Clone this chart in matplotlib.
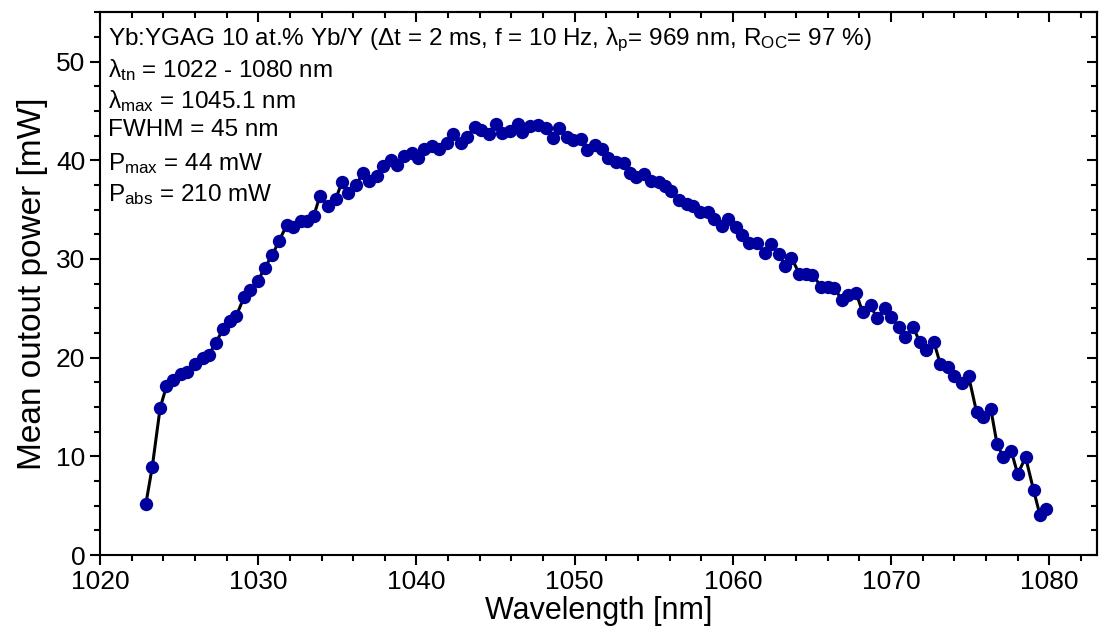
import matplotlib
matplotlib.use("Agg")
import matplotlib.pyplot as plt
from matplotlib.ticker import MultipleLocator

plt.rcParams['font.family'] = ['Liberation Sans', 'DejaVu Sans']
plt.rcParams['mathtext.fontset'] = 'custom'
plt.rcParams['mathtext.rm'] = 'Liberation Sans'
plt.rcParams['mathtext.it'] = 'Liberation Sans:italic'
plt.rcParams['mathtext.default'] = 'regular'

# wavelength [nm]
wavelength = [
    1022.9, 1023.3, 1023.8, 1024.2, 1024.6, 1025.1, 1025.5, 1026.0, 1026.5, 1026.9,
    1027.3, 1027.8, 1028.2, 1028.6, 1029.1, 1029.5, 1030.0, 1030.4, 1030.9, 1031.3,
    1031.8, 1032.2, 1032.7, 1033.1, 1033.5, 1033.9, 1034.4, 1034.9, 1035.3, 1035.7,
    1036.2, 1036.6, 1037.0, 1037.5, 1037.9, 1038.4, 1038.8, 1039.2, 1039.7, 1040.1,
    1040.5, 1041.0, 1041.4, 1041.9, 1042.3, 1042.8, 1043.2, 1043.7, 1044.1, 1044.6,
    1045.0, 1045.4, 1045.9, 1046.4, 1046.7, 1047.2, 1047.7, 1048.2, 1048.6, 1049.0,
    1049.5, 1049.9, 1050.4, 1050.8, 1051.3, 1051.7, 1052.1, 1052.6, 1053.1, 1053.5,
    1053.9, 1054.4, 1054.8, 1055.3, 1055.7, 1056.1, 1056.6, 1057.1, 1057.5, 1057.9,
    1058.4, 1058.8, 1059.3, 1059.7, 1060.2, 1060.6, 1061.0, 1061.5, 1062.0, 1062.4,
    1062.9, 1063.3, 1063.7, 1064.2, 1064.6, 1065.0, 1065.6, 1066.0, 1066.4, 1066.9,
    1067.3, 1067.8, 1068.2, 1068.7, 1069.1, 1069.6, 1070.0, 1070.5, 1070.9, 1071.4,
    1071.8, 1072.2, 1072.7, 1073.1, 1073.6, 1074.0, 1074.5, 1074.9, 1075.4, 1075.8,
    1076.3, 1076.7, 1077.1, 1077.6, 1078.0, 1078.5, 1079.0, 1079.4, 1079.8,
]
# mean output power [mW]
power = [
    5.2, 8.9, 14.9, 17.1, 17.7, 18.3, 18.5, 19.4, 20.0, 20.3,
    21.5, 22.9, 23.7, 24.2, 26.1, 26.9, 27.8, 29.1, 30.4, 31.8,
    33.4, 33.2, 33.8, 33.8, 34.3, 36.4, 35.4, 36.1, 37.8, 36.7,
    37.5, 38.7, 37.9, 38.4, 39.4, 40.0, 39.5, 40.4, 40.7, 40.2,
    41.1, 41.4, 41.1, 41.7, 42.7, 41.7, 42.4, 43.4, 43.1, 42.7,
    43.7, 42.8, 43.0, 43.7, 42.9, 43.5, 43.6, 43.3, 42.3, 43.3,
    42.4, 42.1, 42.2, 41.0, 41.5, 41.1, 40.2, 39.8, 39.7, 38.7,
    38.3, 38.6, 37.9, 37.8, 37.4, 36.9, 36.0, 35.6, 35.4, 34.8,
    34.8, 34.0, 33.3, 34.0, 33.2, 32.4, 31.6, 31.6, 30.6, 31.5,
    30.5, 29.3, 30.1, 28.5, 28.5, 28.4, 27.2, 27.2, 27.1, 25.8,
    26.3, 26.5, 24.6, 25.3, 24.0, 25.0, 24.1, 23.1, 22.1, 23.1,
    21.6, 20.8, 21.6, 19.4, 19.0, 18.1, 17.4, 18.1, 14.5, 14.0,
    14.8, 11.2, 9.9, 10.5, 8.2, 9.9, 6.6, 4.1, 4.7,
]

info_lines = [
    r'Yb:YGAG 10 at.% Yb/Y ($\Delta$t = 2 ms, f = 10 Hz, $\lambda_{p}$= 969 nm, R$_{OC}$= 97 %)',
    r'$\lambda_{tn}$ = 1022 - 1080 nm',
    r'$\lambda_{max}$ = 1045.1 nm',
    'FWHM = 45 nm',
    r'P$_{max}$ = 44 mW',
    r'P$_{abs}$ = 210 mW',
]

fig = plt.figure(figsize=(10.99, 6.42), dpi=100)
ax = fig.add_axes([0.091, 0.1355, 0.907, 0.8455])

ax.plot(wavelength, power, color='black', lw=2.2, zorder=1)
ax.plot(wavelength, power, 'o', color='#00009E', markersize=9.6,
        markeredgewidth=0, zorder=2)

ax.set_xlim(1020, 1083)
ax.set_ylim(0, 55)
ax.xaxis.set_major_locator(MultipleLocator(10))
ax.xaxis.set_minor_locator(MultipleLocator(2))
ax.yaxis.set_major_locator(MultipleLocator(10))
ax.yaxis.set_minor_locator(MultipleLocator(2.5))

ax.tick_params(which='both', direction='out', top=False, right=False,
               width=1.5, labelsize=19)
ax.tick_params(which='major', length=7)
ax.tick_params(which='minor', length=4)
ax2 = ax.secondary_xaxis('top')
ax2.xaxis.set_major_locator(MultipleLocator(10))
ax2.xaxis.set_minor_locator(MultipleLocator(2))
ax2.tick_params(which='both', direction='in', width=1.5, labeltop=False)
ax2.tick_params(which='major', length=7)
ax2.tick_params(which='minor', length=4)
ay2 = ax.secondary_yaxis('right')
ay2.yaxis.set_major_locator(MultipleLocator(10))
ay2.yaxis.set_minor_locator(MultipleLocator(2.5))
ay2.tick_params(which='both', direction='in', width=1.5, labelright=False)
ay2.tick_params(which='major', length=7)
ay2.tick_params(which='minor', length=4)
for s in list(ax.spines.values()) + [ax2.spines['top'], ay2.spines['right']]:
    s.set_linewidth(1.5)

ax.set_xlabel('Wavelength [nm]', fontsize=22, labelpad=2)
ax.set_ylabel('Mean outout power [mW]', fontsize=24, labelpad=6)

for i, line in enumerate(info_lines):
    ax.text(0.008, 0.975 - i * 0.0575, line, transform=ax.transAxes,
            fontsize=17.5, va='top', ha='left')

fig.savefig('out.png', dpi=100)
